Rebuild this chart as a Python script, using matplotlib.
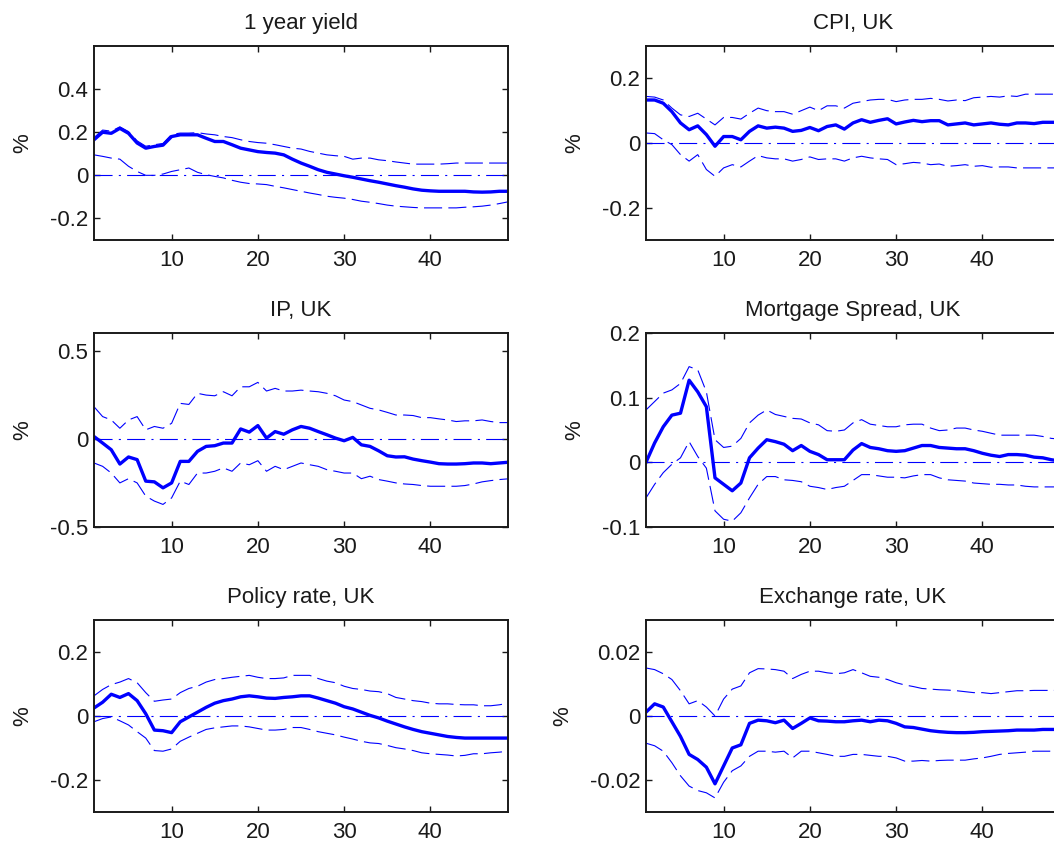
import numpy as np
import matplotlib
matplotlib.use("Agg")
import matplotlib.pyplot as plt
from matplotlib.ticker import FixedLocator, FuncFormatter

plt.rcParams['font.family'] = ['Liberation Sans', 'DejaVu Sans']
plt.rcParams['axes.unicode_minus'] = False
plt.rcParams['lines.scale_dashes'] = False

horizon = np.arange(1, 50)

titles = ["1 year yield", "CPI, UK", "IP, UK", "Mortgage Spread, UK",
          "Policy rate, UK", "Exchange rate, UK"]

# 1 year yield
yield_med = [0.165, 0.20, 0.195, 0.218, 0.195, 0.15, 0.126, 0.134, 0.14, 0.18,
             0.188, 0.188, 0.188, 0.172, 0.157, 0.157, 0.142, 0.126, 0.118, 0.11,
             0.106, 0.103, 0.095, 0.075, 0.057, 0.042, 0.026, 0.014, 0.006, -0.002,
             -0.009, -0.017, -0.025, -0.032, -0.040, -0.048, -0.055, -0.063, -0.069, -0.072,
             -0.074, -0.074, -0.074, -0.074, -0.077, -0.078, -0.077, -0.074, -0.074]
yield_hi = [0.175, 0.21, 0.205, 0.225, 0.203, 0.16, 0.135, 0.142, 0.148, 0.19,
            0.196, 0.196, 0.198, 0.192, 0.188, 0.18, 0.175, 0.165, 0.157, 0.152,
            0.149, 0.142, 0.134, 0.126, 0.122, 0.111, 0.103, 0.095, 0.091, 0.088,
            0.075, 0.08, 0.08, 0.072, 0.068, 0.062, 0.057, 0.052, 0.052, 0.052,
            0.052, 0.054, 0.057, 0.057, 0.057, 0.057, 0.057, 0.057, 0.057]
yield_lo = [0.095, 0.088, 0.08, 0.075, 0.042, 0.018, 0.0, 0.0, 0.006, 0.018,
            0.026, 0.034, 0.014, 0.003, -0.005, -0.012, -0.023, -0.032, -0.038, -0.04,
            -0.043, -0.051, -0.058, -0.066, -0.074, -0.082, -0.089, -0.097, -0.102, -0.106,
            -0.112, -0.12, -0.125, -0.131, -0.138, -0.143, -0.146, -0.149, -0.151, -0.151,
            -0.151, -0.151, -0.151, -0.148, -0.146, -0.143, -0.138, -0.131, -0.123]

# CPI
cpi_med = [0.133, 0.133, 0.123, 0.097, 0.062, 0.041, 0.053, 0.026, -0.01, 0.02,
           0.02, 0.01, 0.036, 0.053, 0.046, 0.049, 0.046, 0.036, 0.039, 0.048,
           0.038, 0.051, 0.056, 0.043, 0.062, 0.072, 0.064, 0.07, 0.075, 0.059,
           0.065, 0.07, 0.066, 0.069, 0.069, 0.056, 0.059, 0.062, 0.056, 0.059,
           0.062, 0.058, 0.056, 0.062, 0.062, 0.06, 0.064, 0.064, 0.064]
cpi_hi = [0.144, 0.142, 0.133, 0.108, 0.087, 0.082, 0.092, 0.074, 0.056, 0.079,
          0.079, 0.074, 0.092, 0.108, 0.10, 0.097, 0.097, 0.089, 0.10, 0.111,
          0.10, 0.115, 0.115, 0.108, 0.123, 0.128, 0.133, 0.135, 0.135, 0.128,
          0.133, 0.135, 0.135, 0.138, 0.135, 0.130, 0.133, 0.131, 0.14, 0.142,
          0.144, 0.142, 0.146, 0.144, 0.151, 0.151, 0.151, 0.151, 0.151]
cpi_lo = [0.031, 0.029, 0.01, -0.005, -0.036, -0.056, -0.036, -0.082, -0.103, -0.077,
          -0.067, -0.074, -0.056, -0.039, -0.046, -0.049, -0.049, -0.056, -0.051, -0.043,
          -0.051, -0.049, -0.049, -0.056, -0.046, -0.041, -0.046, -0.049, -0.051, -0.067,
          -0.064, -0.06, -0.062, -0.067, -0.065, -0.072, -0.070, -0.067, -0.072, -0.070,
          -0.075, -0.074, -0.074, -0.077, -0.077, -0.077, -0.077, -0.077, -0.077]

# IP
ip_med = [0.013, -0.024, -0.062, -0.143, -0.103, -0.118, -0.24, -0.244, -0.278, -0.25,
          -0.128, -0.128, -0.071, -0.043, -0.039, -0.024, -0.024, 0.056, 0.038, 0.075,
          0.004, 0.041, 0.026, 0.051, 0.07, 0.06, 0.041, 0.023, 0.004, -0.011,
          0.008, -0.034, -0.043, -0.068, -0.096, -0.103, -0.102, -0.115, -0.124, -0.132,
          -0.141, -0.143, -0.143, -0.141, -0.137, -0.137, -0.141, -0.137, -0.133]
ip_hi = [0.182, 0.126, 0.107, 0.06, 0.107, 0.126, 0.051, 0.07, 0.06, 0.088,
         0.201, 0.195, 0.258, 0.248, 0.244, 0.267, 0.244, 0.295, 0.295, 0.32,
         0.271, 0.286, 0.271, 0.271, 0.276, 0.271, 0.267, 0.258, 0.244, 0.22,
         0.211, 0.192, 0.173, 0.164, 0.15, 0.135, 0.135, 0.132, 0.12, 0.12,
         0.113, 0.107, 0.098, 0.102, 0.102, 0.107, 0.098, 0.092, 0.092]
ip_lo = [-0.137, -0.156, -0.194, -0.25, -0.226, -0.25, -0.325, -0.353, -0.372, -0.335,
         -0.24, -0.259, -0.194, -0.194, -0.184, -0.165, -0.184, -0.137, -0.147, -0.124,
         -0.184, -0.156, -0.175, -0.156, -0.137, -0.147, -0.156, -0.175, -0.184, -0.194,
         -0.194, -0.226, -0.212, -0.231, -0.24, -0.25, -0.256, -0.259, -0.265, -0.269,
         -0.269, -0.269, -0.269, -0.265, -0.256, -0.244, -0.237, -0.231, -0.227]

# Mortgage spread
mort_med = [0.0, 0.03, 0.055, 0.073, 0.076, 0.127, 0.109, 0.086, -0.024, -0.034,
            -0.044, -0.032, 0.007, 0.022, 0.035, 0.032, 0.028, 0.018, 0.026, 0.017,
            0.012, 0.004, 0.004, 0.004, 0.019, 0.029, 0.023, 0.021, 0.018, 0.017,
            0.018, 0.022, 0.026, 0.026, 0.023, 0.022, 0.021, 0.021, 0.018, 0.014,
            0.011, 0.009, 0.012, 0.012, 0.011, 0.008, 0.007, 0.004, 0.002]
mort_hi = [0.081, 0.094, 0.107, 0.112, 0.122, 0.148, 0.143, 0.109, 0.035, 0.023,
           0.025, 0.037, 0.061, 0.073, 0.081, 0.074, 0.071, 0.068, 0.067, 0.061,
           0.058, 0.049, 0.048, 0.05, 0.061, 0.066, 0.059, 0.057, 0.055, 0.055,
           0.058, 0.059, 0.059, 0.053, 0.049, 0.050, 0.053, 0.053, 0.050, 0.048,
           0.045, 0.042, 0.042, 0.042, 0.042, 0.042, 0.040, 0.037, 0.036]
mort_lo = [-0.055, -0.034, -0.016, -0.003, 0.007, 0.032, 0.009, -0.009, -0.075, -0.088,
           -0.091, -0.078, -0.055, -0.034, -0.022, -0.022, -0.027, -0.028, -0.03, -0.037,
           -0.039, -0.042, -0.039, -0.037, -0.028, -0.019, -0.019, -0.021, -0.023, -0.023,
           -0.024, -0.021, -0.019, -0.019, -0.024, -0.027, -0.028, -0.029, -0.032, -0.033,
           -0.034, -0.034, -0.035, -0.035, -0.037, -0.038, -0.038, -0.038, -0.038]

# Policy rate
pol_med = [0.025, 0.043, 0.068, 0.058, 0.07, 0.048, 0.007, -0.044, -0.046, -0.052,
           -0.018, -0.003, 0.012, 0.027, 0.04, 0.048, 0.053, 0.06, 0.063, 0.06,
           0.056, 0.055, 0.058, 0.06, 0.063, 0.063, 0.056, 0.048, 0.04, 0.029,
           0.022, 0.012, 0.002, -0.006, -0.016, -0.025, -0.034, -0.042, -0.049, -0.054,
           -0.059, -0.064, -0.067, -0.069, -0.069, -0.069, -0.069, -0.069, -0.069]
pol_hi = [0.063, 0.083, 0.098, 0.106, 0.117, 0.104, 0.073, 0.046, 0.05, 0.053,
          0.073, 0.086, 0.093, 0.106, 0.114, 0.117, 0.121, 0.124, 0.127, 0.121,
          0.117, 0.117, 0.119, 0.127, 0.127, 0.127, 0.117, 0.109, 0.104, 0.093,
          0.086, 0.083, 0.078, 0.076, 0.07, 0.058, 0.053, 0.048, 0.045, 0.04,
          0.038, 0.038, 0.036, 0.035, 0.035, 0.032, 0.032, 0.035, 0.04]
pol_lo = [-0.018, -0.008, -0.003, -0.015, -0.028, -0.049, -0.069, -0.108, -0.11, -0.103,
          -0.079, -0.066, -0.054, -0.042, -0.037, -0.034, -0.031, -0.031, -0.034, -0.039,
          -0.044, -0.044, -0.042, -0.036, -0.036, -0.042, -0.049, -0.054, -0.059, -0.066,
          -0.072, -0.079, -0.084, -0.086, -0.092, -0.099, -0.103, -0.108, -0.115, -0.118,
          -0.12, -0.122, -0.125, -0.123, -0.118, -0.118, -0.115, -0.113, -0.11]

# Exchange rate
fx_med = [0.0012, 0.0038, 0.0028, -0.0018, -0.0064, -0.012, -0.0136, -0.016, -0.0212, -0.0156,
          -0.010, -0.009, -0.0023, -0.0013, -0.0015, -0.0021, -0.0013, -0.0039, -0.0023, -0.0006,
          -0.0015, -0.0016, -0.0018, -0.0018, -0.0015, -0.0013, -0.0018, -0.0013, -0.0015, -0.0023,
          -0.0034, -0.0036, -0.0041, -0.0046, -0.0049, -0.0051, -0.0052, -0.0052, -0.0051, -0.0049,
          -0.0048, -0.0047, -0.0046, -0.0044, -0.0044, -0.0044, -0.0042, -0.0042, -0.0042]
fx_hi = [0.015, 0.0145, 0.0132, 0.0114, 0.0079, 0.0038, 0.0048, 0.0028, 0.0, 0.0053,
         0.0084, 0.0094, 0.0135, 0.0148, 0.0147, 0.0145, 0.014, 0.0117, 0.013, 0.014,
         0.014, 0.0135, 0.0132, 0.0135, 0.0145, 0.0135, 0.0124, 0.0121, 0.0114, 0.0104,
         0.0097, 0.0092, 0.0086, 0.0084, 0.0082, 0.0081, 0.0079, 0.0076, 0.0073, 0.0073,
         0.007, 0.0073, 0.0076, 0.0079, 0.0079, 0.008, 0.008, 0.008, 0.008]
fx_lo = [-0.0085, -0.0093, -0.011, -0.0146, -0.0187, -0.0219, -0.0233, -0.024, -0.0256, -0.0207,
         -0.0171, -0.0156, -0.0126, -0.011, -0.011, -0.0113, -0.011, -0.0131, -0.011, -0.011,
         -0.0115, -0.012, -0.0126, -0.0126, -0.012, -0.012, -0.0123, -0.0126, -0.0126, -0.0131,
         -0.0141, -0.0141, -0.0139, -0.0141, -0.0139, -0.0138, -0.0138, -0.0138, -0.0134, -0.0131,
         -0.0126, -0.012, -0.0117, -0.0115, -0.0113, -0.011, -0.011, -0.011, -0.011]

medians = [yield_med, cpi_med, ip_med, mort_med, pol_med, fx_med]
uppers = [yield_hi, cpi_hi, ip_hi, mort_hi, pol_hi, fx_hi]
lowers = [yield_lo, cpi_lo, ip_lo, mort_lo, pol_lo, fx_lo]

ylims = [(-0.3, 0.6), (-0.3, 0.3), (-0.5, 0.6), (-0.1, 0.2), (-0.3, 0.3), (-0.03, 0.03)]
yticks = [[-0.2, 0, 0.2, 0.4], [-0.2, 0, 0.2], [-0.5, 0, 0.5], [-0.1, 0, 0.1, 0.2],
          [-0.2, 0, 0.2], [-0.02, 0, 0.02]]

W, H = 1054, 846
fig = plt.figure(figsize=(W / 100, H / 100), dpi=100)

# panel grid in pixels; the right column runs a little past the figure edge
col_left = [94, 646]
col_width = 414
row_top = [46, 333, 620]
row_height = [194, 194, 192]

blue = '#0000ff'
dash = (0, (13, 4.5))
dashdot = (0, (13, 4.5, 1.5, 4.5))
fs = 16

for i in range(6):
    r, c = divmod(i, 2)
    rect = [col_left[c] / W, 1 - (row_top[r] + row_height[r]) / H,
            col_width / W, row_height[r] / H]
    ax = fig.add_axes(rect)
    ax.plot(horizon, np.zeros_like(horizon), color=blue, lw=0.8, linestyle=dashdot)
    ax.plot(horizon, uppers[i], color=blue, lw=0.8, linestyle=dash)
    ax.plot(horizon, lowers[i], color=blue, lw=0.8, linestyle=dash)
    ax.plot(horizon, medians[i], color=blue, lw=2.4)
    ax.set_xlim(1, 49)
    ax.set_ylim(*ylims[i])
    ax.xaxis.set_major_locator(FixedLocator([10, 20, 30, 40]))
    ax.yaxis.set_major_locator(FixedLocator(yticks[i]))
    ax.yaxis.set_major_formatter(FuncFormatter(lambda v, p: f"{v:g}"))
    ax.tick_params(direction='in', length=4, width=1, top=True, right=(c == 0),
                   labelsize=fs, colors='#1a1a1a')
    ax.tick_params(axis='x', pad=7)
    ax.tick_params(axis='y', pad=4)
    for s in ax.spines.values():
        s.set_linewidth(1.4)
        s.set_color('#1a1a1a')
    ax.set_title(titles[i], fontsize=fs, pad=12, color='#1a1a1a')
    ax.set_ylabel('%', fontsize=fs, labelpad=12, color='#1a1a1a')

fig.savefig('out.png', dpi=100)
